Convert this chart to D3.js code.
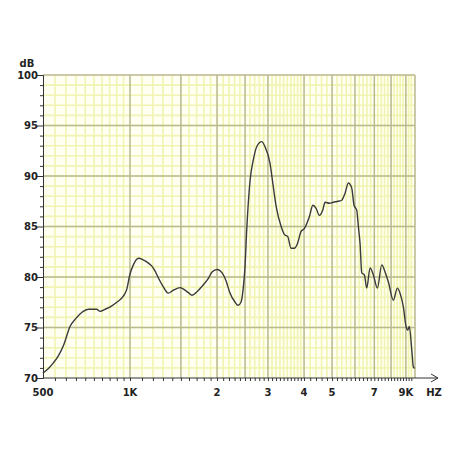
<!DOCTYPE html>
<html>
<head>
<meta charset="utf-8">
<script src="https://cdn.jsdelivr.net/npm/d3@7"></script>
<style>
body { margin: 0; background: #fff; }
text { font-family: "DejaVu Sans", Verdana, sans-serif; font-weight: bold; fill: #222; }
</style>
</head>
<body>
<div id="chart"></div>
<script>
// response curve
var freqs = [500, 520, 543, 565, 590, 620, 650, 689, 720, 766, 788, 819, 860, 900, 948, 975,
    998, 1027, 1069, 1110, 1155, 1188, 1220, 1254, 1302, 1356, 1413, 1491, 1550, 1600, 1638,
    1684, 1771, 1869, 1922, 2003, 2083, 2150, 2208, 2310, 2365, 2420, 2458, 2499, 2533, 2603,
    2670, 2744, 2855, 2930, 3050, 3130, 3205, 3335, 3425, 3513, 3606, 3702, 3800, 3903, 4008,
    4175, 4290, 4402, 4520, 4640, 4729, 4897, 5052, 5250, 5400, 5545, 5693, 5848, 5957, 6088,
    6165, 6249, 6334, 6467, 6592, 6768, 6948, 7174, 7428, 7627, 7830, 8147, 8410, 8593, 8822,
    9013, 9137, 9253, 9433, 9554, 9650];
var levels = [70.5, 70.9, 71.5, 72.2, 73.3, 75.1, 75.9, 76.6, 76.8, 76.8, 76.6, 76.8, 77.1, 77.5, 78.1, 78.8,
    80.2, 81.2, 81.85, 81.7, 81.4, 81.1, 80.6, 79.9, 79.05, 78.4, 78.7, 78.95, 78.7, 78.4, 78.2,
    78.4, 79.05, 79.9, 80.5, 80.75, 80.4, 79.6, 78.55, 77.5, 77.2, 77.5, 78.6, 81.0, 84.6, 89.6,
    91.6, 92.9, 93.4, 92.9, 91.25, 88.95, 86.95, 84.98, 84.2, 84.0, 82.85, 82.85, 83.35, 84.5, 84.8,
    86.0, 87.1, 86.8, 86.1, 86.6, 87.4, 87.3, 87.4, 87.5, 87.6, 88.3, 89.3, 88.8, 87.1, 86.6,
    85.0, 83.3, 80.4, 80.2, 78.9, 80.9, 80.2, 78.9, 81.2, 80.5, 79.5, 77.7, 78.9, 78.4, 77.05,
    75.1, 74.75, 75.1, 72.8, 71.1, 70.95];

var yTicks = [70, 75, 80, 85, 90, 95, 100];
var xMajor = [1000, 1500, 2000, 2500, 3000, 4000, 5000, 6000, 7000, 8000, 9000];
var xLabels = [[500, "500"], [1000, "1K"], [2000, "2"], [3000, "3"], [4000, "4"],
    [5000, "5"], [7000, "7"], [9000, "9K"]];

var W = 458, H = 458;
var mLeft = 43, mRight = 415, mTop = 75, mBottom = 378;

// minor vertical lines: 50 Hz below 1K, 100 Hz to 4K, 200 Hz above
var xMinor = d3.range(550, 1000, 50).concat(d3.range(1100, 4000, 100), d3.range(4200, 9600, 200))
    .filter(function (d) { return xMajor.indexOf(d) < 0; });

var x = d3.scaleLog().domain([500, 9680]).range([mLeft, mRight]);
var y = d3.scaleLinear().domain([70, 100]).range([mBottom, mTop]);

var svg = d3.select("#chart").append("svg").attr("width", W).attr("height", H);

svg.append("rect").attr("x", mLeft).attr("y", mTop)
    .attr("width", mRight - mLeft).attr("height", mBottom - mTop)
    .style("fill", "#fffff2");

var grid = svg.append("g");
grid.selectAll(".hm").data(d3.range(71, 100, 1)).enter().append("line")
    .attr("x1", mLeft).attr("x2", mRight)
    .attr("y1", function (d) { return y(d); }).attr("y2", function (d) { return y(d); })
    .style("stroke", "#f1f4b2").style("stroke-width", 1.6);
grid.selectAll(".vm").data(xMinor).enter().append("line")
    .attr("y1", mTop).attr("y2", mBottom)
    .attr("x1", function (d) { return x(d); }).attr("x2", function (d) { return x(d); })
    .style("stroke", "#f1f4b2").style("stroke-width", 1.6);
grid.selectAll(".hM").data(yTicks.slice(1)).enter().append("line")
    .attr("x1", mLeft).attr("x2", mRight)
    .attr("y1", function (d) { return y(d); }).attr("y2", function (d) { return y(d); })
    .style("stroke", "#b8b98e").style("stroke-width", 1.5);
grid.selectAll(".vM").data(xMajor).enter().append("line")
    .attr("y1", mTop).attr("y2", mBottom)
    .attr("x1", function (d) { return x(d); }).attr("x2", function (d) { return x(d); })
    .style("stroke", "#b8b98e").style("stroke-width", 1.5);
// right border
grid.append("line").attr("x1", mRight).attr("x2", mRight).attr("y1", mTop).attr("y2", mBottom)
    .style("stroke", "#b8b98e").style("stroke-width", 1.5);

// y axis
var yAxis = d3.axisLeft(y).tickValues(d3.range(70, 101, 1)).tickSize(3)
    .tickFormat(function (d) { return d % 5 == 0 ? d : ""; });
var gy = svg.append("g").attr("transform", "translate(" + mLeft + ",0)").call(yAxis);
gy.select(".domain").style("stroke", "#333");
gy.selectAll(".tick line").style("stroke", "#333")
    .attr("x2", function (d) { return d % 5 == 0 ? -6 : -3; });
gy.selectAll(".tick text").attr("x", -5).style("font-size", "10px")
    .style("font-family", "DejaVu Sans").style("font-weight", "bold").style("fill", "#222");

svg.append("text").attr("x", 27).attr("y", 67).attr("text-anchor", "middle")
    .style("font-size", "10px").text("dB");

// x axis
var xAxis = d3.axisBottom(x).tickValues(xMinor.concat(xMajor)).tickSize(3).tickFormat("");
var gx = svg.append("g").attr("transform", "translate(0," + mBottom + ")").call(xAxis);
gx.select(".domain").remove();
gx.selectAll(".tick line").style("stroke", "#333");
svg.append("line").attr("x1", mLeft).attr("x2", 438).attr("y1", mBottom).attr("y2", mBottom)
    .style("stroke", "#333").style("stroke-width", 1);
svg.append("path").attr("d", "M431,374 L438,378 L431,382")
    .style("fill", "none").style("stroke", "#333").style("stroke-width", 1);

svg.selectAll(".xl").data(xLabels).enter().append("text")
    .attr("x", function (d) { return x(d[0]); }).attr("y", 396)
    .attr("text-anchor", "middle").style("font-size", "10px")
    .text(function (d) { return d[1]; });
svg.append("text").attr("x", 434).attr("y", 396).attr("text-anchor", "middle")
    .style("font-size", "10px").text("HZ");

// curve
var line = d3.line()
    .x(function (d, i) { return x(freqs[i]); })
    .y(function (d) { return y(d); })
    .curve(d3.curveMonotoneX);
svg.append("path").datum(levels).attr("d", line)
    .style("fill", "none").style("stroke", "#3a3a3a").style("stroke-width", 1.4);
</script>
</body>
</html>
